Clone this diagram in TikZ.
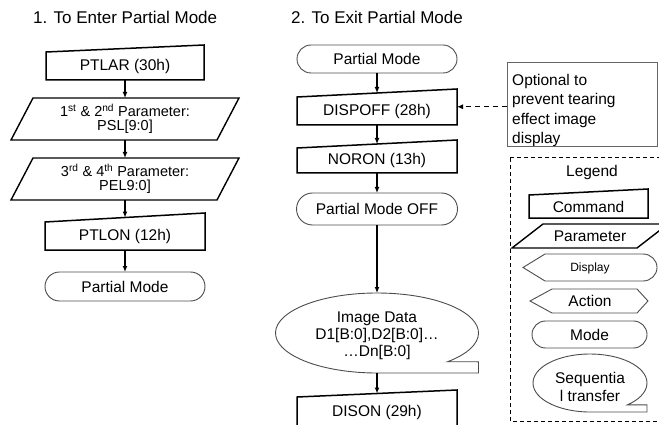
\documentclass[tikz,border=0pt]{standalone}
\usepackage{fontspec}
\setmainfont{Liberation Sans}
\usetikzlibrary{arrows.meta,calc,shapes.misc,shapes.geometric}
\newcommand\cmdshape[2]{%
  \draw[cmdline] (#1.south west) -- (#1.north west) -- ([yshift=#2]#1.north east) -- (#1.south east) -- cycle;
  \coordinate (#1-top) at ($(#1.north west)!.5!([yshift=#2]#1.north east)$);}
\newcommand\parmshape[2]{%
  \draw[parline] ([xshift=-#2]#1.south west) -- ([xshift=#2]#1.north west) -- ([xshift=#2]#1.north east) -- ([xshift=-#2]#1.south east) -- cycle;}
\begin{document}
\begin{tikzpicture}[x=1pt,y=1pt,
  txt/.style={font=\fontsize{15.5}{17}\selectfont},
  ptxt/.style={font=\fontsize{14.5}{13.8}\selectfont, align=center},
  ttl/.style={font=\fontsize{17}{19}\selectfont, anchor=west, inner sep=0pt},
  hold/.style={draw=none, inner sep=0pt, outer sep=0pt},
  cmdline/.style={draw=black, line width=1.5pt, line join=miter},
  parline/.style={draw=black, line width=1.4pt, line join=miter},
  thinline/.style={draw=black!70, line width=0.9pt},
  modebox/.style={rounded rectangle, draw=black!70, line width=0.9pt, inner sep=0pt, outer sep=0pt},
  arr/.style={-{Latex[length=6pt,width=5pt]}, line width=1.3pt},
  dasharr/.style={-{Latex[length=6pt,width=5pt]}, line width=1pt, dash pattern=on 5pt off 4pt},
  optline/.style={font=\fontsize{15.5}{17}\selectfont, anchor=base west, inner sep=0pt},
]
\useasboundingbox (0,0) rectangle (659,-425);
\clip (0,0) rectangle (659,-425);

% titles
\node[ttl] (t1) at (33,-17) {1. To Enter Partial Mode};
\node[ttl] (t2) at (291,-17) {2. To Exit Partial Mode};

% left column
\node[hold,txt,minimum width=158pt,minimum height=28pt] (ptlar) at (125,-66) {PTLAR (30h)};
\cmdshape{ptlar}{7pt}
\node[hold,ptxt,minimum width=206pt,minimum height=42pt] (p1) at (125,-119)
  {1\textsuperscript{st} \& 2\textsuperscript{nd} Parameter:\\PSL[9:0]};
\parmshape{p1}{11pt}
\node[hold,ptxt,minimum width=206pt,minimum height=42pt] (p2) at (125,-179)
  {3\textsuperscript{rd} \& 4\textsuperscript{th} Parameter:\\PEL9:0]};
\parmshape{p2}{11pt}
\node[hold,txt,minimum width=160pt,minimum height=28pt] (ptlon) at (125,-236) {PTLON (12h)};
\cmdshape{ptlon}{9pt}
\node[modebox,txt,minimum width=160pt,minimum height=29pt] (pm1) at (125,-286.5) {Partial Mode};

\draw[arr] (ptlar.south) -- (p1.north);
\draw[arr] (p1.south) -- (p2.north);
\draw[arr] (p2.south) -- (ptlon-top);
\draw[arr] (ptlon.south) -- (pm1.north);

% right column
\node[modebox,txt,minimum width=160pt,minimum height=28pt] (pm2) at (377,-59) {Partial Mode};
\node[hold,txt,minimum width=160pt,minimum height=28pt] (dispoff) at (377,-111) {DISPOFF (28h)};
\cmdshape{dispoff}{8pt}
\node[hold,txt,minimum width=160pt,minimum height=25pt] (noron) at (377,-160.5) {NORON (13h)};
\cmdshape{noron}{8pt}
\node[modebox,txt,minimum width=161pt,minimum height=32pt] (pmoff) at (377,-209) {Partial Mode OFF};
\node[hold,ellipse,minimum width=203pt,minimum height=80pt] (img) at (377,-333) {};
\draw[thinline] ($(img.center)+(-46:101.5 and 40)$) arc[start angle=-46,end angle=270,x radius=101.5,y radius=40]
  -- (img.east |- img.south) -- ($(img.east)+(0,-28.8)$) -- cycle;
\node[txt,align=center,inner sep=0pt] (imgtxt) at (377,-336) {Image Data\\D1[B:0],D2[B:0]\dots\\\dots Dn[B:0]};
\node[hold,txt,minimum width=160pt,minimum height=30pt] (dison) at (377,-412) {DISON (29h)};
\cmdshape{dison}{7pt}

\draw[arr] (pm2.south) -- (dispoff-top);
\draw[arr] (dispoff.south) -- (noron-top);
\draw[arr] (noron.south) -- (pmoff.north);
\draw[arr] (pmoff.south) -- (img.north);
\draw[arr] (img.south) -- (dison-top);

% optional note
\node[hold,minimum width=150pt,minimum height=84.5pt] (opt) at (582,-104.25) {};
\draw[draw=black!60,line width=0.9pt] (opt.south west) rectangle (opt.north east);
\begin{scope}
  \clip ([shift={(1pt,1pt)}]opt.south west) rectangle (opt.north east);
  \node[optline] (o1) at (512,-86) {Optional to};
  \node[optline] (o2) at (512,-105) {prevent tearing};
  \node[optline] (o3) at (512,-124.5) {effect image};
  \node[optline] (o4) at (512,-144) {display};
\end{scope}
\coordinate (optin) at ([yshift=-2.5pt]opt.west);
\draw[dasharr] (optin) -- (dispoff.east |- optin);

% legend
\draw[black, line width=1pt, dash pattern=on 4pt off 3pt] (510,-158) rectangle (662,-421);
\node[txt] (leg) at (592,-172) {Legend};
\node[hold,txt,minimum width=119pt,minimum height=23pt] (lcmd) at (588.5,-206.5) {Command};
\cmdshape{lcmd}{6pt}
\node[hold,txt,minimum width=125pt,minimum height=24pt] (lpar) at (590,-236) {Parameter};
\parmshape{lpar}{15.5pt}
\draw[thinline] (523,-267.5) -- (545,-254) -- (643,-254) arc[start angle=90,end angle=-90,x radius=14,y radius=13.5] -- (545,-281) -- cycle;
\node[font=\fontsize{12}{14}\selectfont] (ldisp) at (590,-268) {Display};
\draw[thinline] (530,-301) -- (552,-289) -- (637,-289) -- (648,-301) -- (637,-313) -- (552,-313) -- cycle;
\node[txt] (lact) at (590,-301) {Action};
\node[modebox,txt,minimum width=115pt,minimum height=27pt] (lmode) at (589.5,-334.5) {Mode};
\coordinate (lseqc) at (590,-383);
\draw[thinline] ($(lseqc)+(-49:57 and 29)$) arc[start angle=-49,end angle=270,x radius=57,y radius=29]
  -- (647,-412) -- (647,-404.9) -- cycle;
\node[font=\fontsize{15.5}{18}\selectfont,align=center,inner sep=0pt] (lseq) at (590,-387) {Sequentia\\l transfer};
\end{tikzpicture}
\end{document}
